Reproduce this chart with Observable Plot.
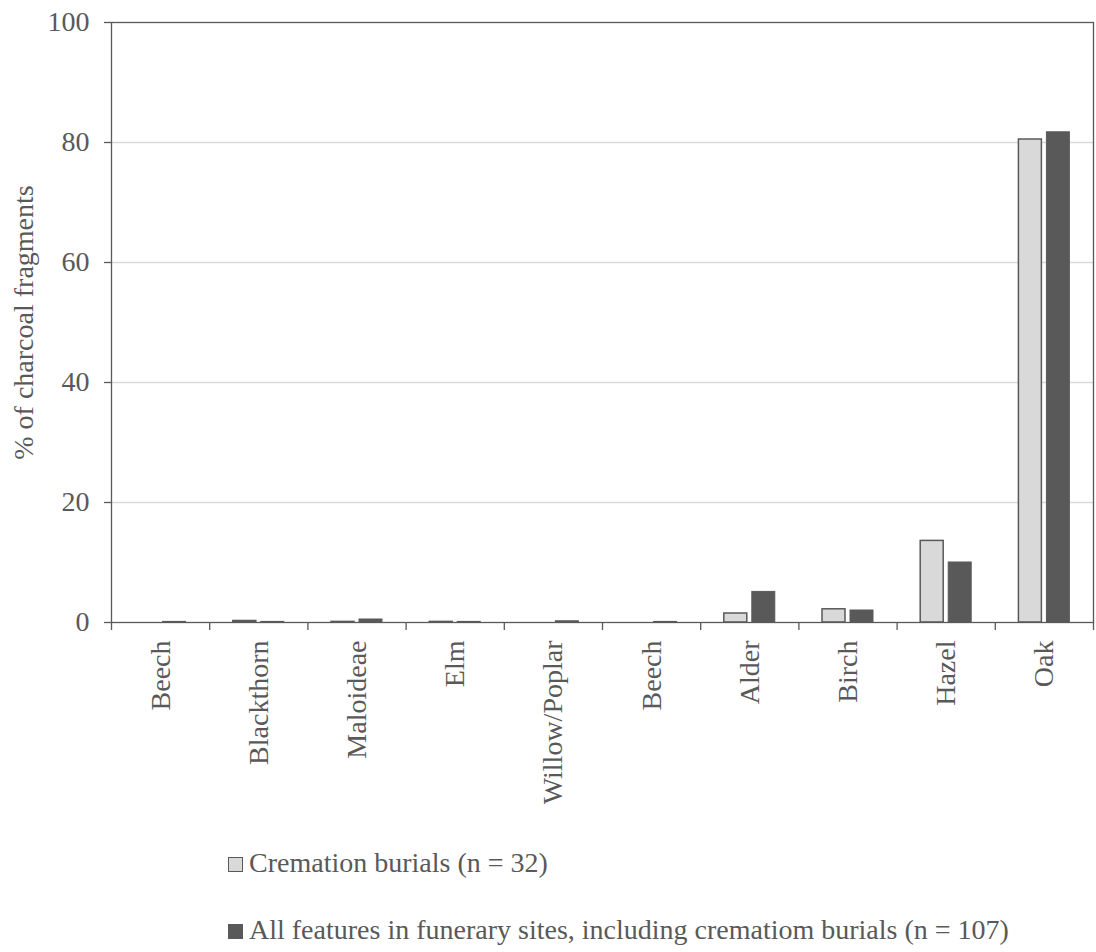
<!DOCTYPE html>
<html><head><meta charset="utf-8">
<script src="https://cdn.jsdelivr.net/npm/d3@7"></script>
<script src="https://cdn.jsdelivr.net/npm/@observablehq/plot@0.6"></script>
<style>
body{margin:0;background:#fff;}
#wrap{position:relative;width:1096px;height:952px;font-family:'Liberation Serif','Times New Roman',serif;color:#595959;}
#legend{position:absolute;left:228px;top:847px;font-size:28px;line-height:32px;}
.item{white-space:nowrap;height:32px;}
.item+.item{margin-top:35px;}
.sw{display:inline-block;width:15px;height:15px;box-sizing:border-box;margin-right:6px;}
</style></head><body><div id="wrap"><div id="chart"></div><div id="legend"></div></div>
<script>
const categories = ["Beech","Blackthorn","Maloideae","Elm","Willow/Poplar","Beech","Alder","Birch","Hazel","Oak"];
const cremation = [0, 0.25, 0.1, 0.1, 0, 0, 1.5, 2.2, 13.6, 80.5];
const allFeatures = [0.1, 0.1, 0.5, 0.1, 0.2, 0.1, 5.1, 2.0, 10.0, 81.7];
const seriesNames = ["Cremation burials (n = 32)", "All features in funerary sites, including crematiom burials (n = 107)"];
const seriesColors = ["#d9d9d9", "#595959"];
const yTicks = [0, 20, 40, 60, 80, 100];
const gridTicks = [20, 40, 60, 80];
const yLabel = "% of charcoal fragments";

const W = 1096, H = 830, mL = 111, mR = 3, mT = 22, mB = 208;
const step = (W - mL - mR) / categories.length;
const barOff = 14;
const ink = "#595959";

const rows = categories.map((c, i) => ({i, cat: c, cremation: cremation[i], all: allFeatures[i]}));
const idx = d3.range(categories.length);

const chart = Plot.plot({
  width: W, height: H,
  marginLeft: mL, marginRight: mR, marginTop: mT, marginBottom: mB,
  style: {fontFamily: "'Liberation Serif','Times New Roman',serif", fontSize: "28px", color: ink, background: "#fff"},
  x: {type: "band", domain: idx, paddingInner: 0.766, paddingOuter: 0.383, round: false},
  y: {domain: [0, 100]},
  marks: [
    Plot.gridY({ticks: gridTicks, stroke: "#d9d9d9", strokeOpacity: 1, strokeWidth: 1.3}),
    Plot.barY(rows, {x: "i", y: "cremation", dx: -barOff, fill: seriesColors[0], stroke: ink, strokeWidth: 1.5}),
    Plot.barY(rows, {x: "i", y: "all", dx: barOff, fill: seriesColors[1], stroke: seriesColors[1], strokeWidth: 1}),
    Plot.frame({stroke: ink, strokeWidth: 1.3}),
    Plot.axisX({ticks: idx, tickSize: 8, tickFormat: () => "", dx: -step / 2, label: null, stroke: ink, strokeWidth: 1.3}),
    Plot.axisX({ticks: [idx[idx.length - 1]], tickSize: 8, tickFormat: () => "", dx: step / 2, label: null, stroke: ink, strokeWidth: 1.3}),
    Plot.axisX({ticks: idx, tickSize: 0, tickPadding: 18, tickRotate: -90, tickFormat: i => categories[i], fontSize: 28, label: null, fill: ink}),
    Plot.axisY({ticks: yTicks, tickSize: 7, tickPadding: 15, fontSize: 28, label: yLabel, labelAnchor: "center", labelOffset: 98, labelArrow: false, stroke: ink, strokeWidth: 1.3, fill: ink})
  ]
});
document.getElementById("chart").appendChild(chart);

const legend = document.getElementById("legend");
seriesNames.forEach((name, k) => {
  const item = document.createElement("div");
  item.className = "item";
  const sw = document.createElement("span");
  sw.className = "sw";
  sw.style.background = seriesColors[k];
  sw.style.border = k === 0 ? `1.5px solid ${ink}` : "none";
  item.appendChild(sw);
  item.appendChild(document.createTextNode(name));
  legend.appendChild(item);
});
</script>
</body></html>
